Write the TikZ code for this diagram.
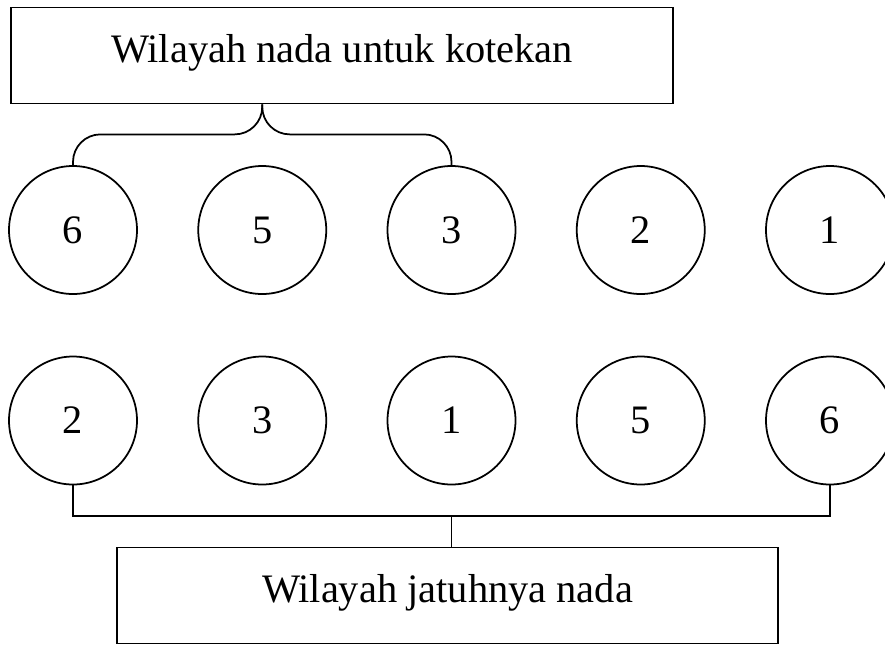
\documentclass[tikz,border=0pt]{standalone}
\usepackage{fontspec}
\setmainfont{Liberation Serif}
\usepackage{tikz}
\tikzset{>=stealth}
\tikzset{
  nada/.style={draw,line width=1pt,circle,minimum size=2.56cm,inner sep=0pt,font=\fontsize{23}{27}\selectfont},
  wilayah/.style={draw,line width=1pt,minimum height=1.92cm,text height=0.62cm,text depth=0.34cm,font=\fontsize{23}{27}\selectfont}
}

\begin{document}
\begin{tikzpicture}
        \useasboundingbox (0,0) rectangle (17.7,-12.92);

        % Boxes
        \node[wilayah,minimum width=13.24cm] at (6.84,-1.11) (kotekan) {Wilayah nada untuk kotekan};
        \node[wilayah,minimum width=13.22cm] at (8.95,-11.91) (jatuh) {Wilayah jatuhnya nada};

        % Upper row
        \node[nada] at (1.46,-4.6)   (a1) {6};
        \node[nada] at (5.245,-4.6)  (a2) {5};
        \node[nada] at (9.03,-4.6)   (a3) {3};
        \node[nada] at (12.815,-4.6) (a4) {2};
        \node[nada] at (16.6,-4.6)   (a5) {1};

        % Lower row
        \node[nada] at (1.46,-8.41)   (b1) {2};
        \node[nada] at (5.245,-8.41)  (b2) {3};
        \node[nada] at (9.03,-8.41)   (b3) {1};
        \node[nada] at (12.815,-8.41) (b4) {5};
        \node[nada] at (16.6,-8.41)   (b5) {6};

        % Brace under the top box
        \draw[line width=1pt,rounded corners=0.55cm] (a2 |- kotekan.south) -- ++(0,-0.6) -| (a1.north);
        \draw[line width=1pt,rounded corners=0.55cm] (a2 |- kotekan.south) -- ++(0,-0.6) -| (a3.north);

        % Connector to the bottom box
        \coordinate (joint) at (9.03,-10.32);
        \draw[line width=1pt] (b1.south) |- (joint) -| (b5.south);
        \draw[line width=1pt] (joint) -- (b3 |- jatuh.north);

      \end{tikzpicture}
\end{document}
